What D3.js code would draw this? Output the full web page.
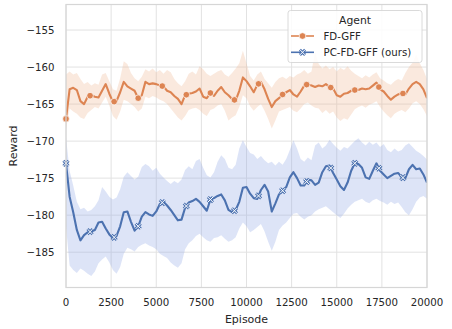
<!DOCTYPE html>
<html>
<head>
<meta charset="utf-8">
<script src="https://cdn.jsdelivr.net/npm/d3@7"></script>
<style>
  html, body { margin: 0; padding: 0; background: #ffffff; }
  svg { display: block; font-family: "DejaVu Sans", sans-serif; }
</style>
</head>
<body>
<svg id="chart" width="452" height="329"></svg>
<script>
// Episodes sampled every 200 steps from 0 to 20000
const episodes = d3.range(0, 20001, 200);

// FD-GFF: mean reward and confidence band
const fdMean = [
  -167.0, -163.0, -162.8, -163.1, -164.6, -165.0, -164.0, -163.8, -164.0, -164.1,
  -163.2, -162.3, -163.6, -164.7, -164.6, -163.4, -162.0, -162.6, -162.9, -163.2,
  -164.2, -163.8, -162.0, -162.3, -162.2, -162.3, -162.5, -162.6, -163.2, -163.4,
  -163.9, -164.3, -165.0, -163.8, -163.6, -163.5, -163.3, -162.9, -164.0, -164.2,
  -163.5, -163.9, -163.2, -162.7, -163.4, -163.8, -164.3, -164.5, -163.2, -161.4,
  -161.9, -162.6, -163.4, -162.4, -162.0, -163.0, -164.3, -165.4, -164.6, -164.2,
  -163.7, -163.4, -163.1, -163.7, -164.0, -163.3, -162.5, -162.3, -162.5, -162.7,
  -162.5, -162.6, -162.3, -162.7, -162.9, -163.8, -164.0, -163.6, -163.5, -163.2,
  -163.1, -163.1, -162.9, -163.0, -162.9, -162.5, -162.1, -163.0, -163.3, -163.9,
  -164.4, -164.0, -163.7, -163.5, -163.7, -162.9, -162.3, -162.0, -162.3, -163.0,
  -164.2
];
const fdUpper = [
  -161.0, -160.6, -161.0, -160.8, -161.6, -162.3, -162.0, -162.5, -162.2, -162.4,
  -161.0, -160.8, -161.9, -163.0, -163.2, -161.5, -159.2, -159.6, -160.8, -161.5,
  -161.9, -161.3, -160.3, -160.6, -160.2, -160.7, -160.4, -160.9, -160.4, -160.7,
  -161.6, -162.2, -162.6, -161.9, -160.9, -160.6, -161.0, -159.9, -160.3, -160.9,
  -161.2, -160.9, -160.6, -160.4, -161.0, -161.3, -160.8, -160.2, -159.5, -157.8,
  -159.5, -161.2, -161.8, -161.0, -160.6, -161.6, -162.2, -162.8, -162.0, -161.5,
  -161.3, -161.6, -161.2, -161.4, -161.0, -160.8, -160.4, -160.9, -160.6, -157.9,
  -159.6, -160.2, -159.8, -160.3, -160.0, -160.6, -160.1, -160.4, -159.9, -160.5,
  -160.9, -161.2, -161.5, -161.1, -161.4, -161.0, -160.7, -161.5, -161.8, -162.2,
  -162.4, -161.9, -161.6, -161.8, -160.8, -160.0, -159.4, -158.3, -159.5, -160.4,
  -161.6
];
const fdLower = [
  -168.5, -165.6, -166.0, -166.3, -166.8, -167.0, -166.2, -165.8, -165.4, -165.6,
  -164.8, -164.0, -165.2, -166.6, -167.1, -166.0, -164.4, -164.6, -165.0, -165.4,
  -166.0, -165.6, -164.0, -164.2, -163.9, -164.1, -164.4, -164.6, -165.0, -165.6,
  -166.2, -166.8, -167.2, -166.6, -165.8, -165.6, -165.5, -165.8, -166.3, -166.6,
  -165.8, -165.6, -165.2, -165.0, -165.9, -167.2, -166.8, -166.5, -165.4, -163.8,
  -164.2, -165.3, -165.9, -165.4, -165.0, -165.9, -167.0, -168.3, -167.2, -166.0,
  -165.8, -165.6, -165.4, -165.9, -166.1, -165.6, -165.0, -164.8, -165.2, -165.5,
  -165.6, -166.2, -165.8, -166.3, -166.0, -166.8, -167.3, -166.9, -167.1, -166.4,
  -165.7, -165.4, -165.2, -165.5, -165.1, -164.9, -164.6, -165.4, -166.0, -166.5,
  -166.9, -166.3, -166.0, -165.8, -166.1, -165.6, -164.9, -164.6, -165.0, -165.7,
  -166.6
];

// PC-FD-GFF (ours): mean reward and confidence band
const pcMean = [
  -173.0, -177.5, -179.6, -182.0, -183.4, -182.7, -182.3, -182.2, -182.0, -181.0,
  -180.9, -181.8, -182.6, -183.1, -182.8, -181.5, -179.6, -179.5, -180.9, -182.1,
  -181.5, -180.2, -179.6, -179.9, -180.1, -179.5, -178.5, -178.2, -178.7, -179.3,
  -180.0, -180.7, -180.6, -179.0, -178.3, -178.1, -177.8, -178.2, -178.8, -179.4,
  -177.9, -177.7, -177.4, -177.2, -178.0, -179.3, -179.6, -179.3, -178.2, -176.3,
  -176.2, -177.1, -177.7, -177.8, -176.6, -175.9, -176.8, -179.5, -178.4, -177.2,
  -176.7, -176.2, -174.9, -174.2, -175.0, -176.0, -176.0, -175.2, -175.3, -175.9,
  -175.6, -174.2, -173.4, -173.3, -174.3, -175.2, -176.1, -176.6, -175.6, -174.0,
  -173.0, -173.1, -173.6, -174.9, -175.1, -174.0, -173.0, -174.0, -174.5, -175.0,
  -174.7, -174.4, -174.3, -174.9, -175.0, -173.8, -173.2, -173.8, -173.7, -174.5,
  -175.6
];
const pcUpper = [
  -169.5, -174.0, -176.0, -178.2, -179.2, -179.0, -179.5, -179.3, -178.8, -178.0,
  -176.2, -176.8, -177.5, -177.9, -177.6, -176.5, -174.8, -174.2, -174.7, -175.2,
  -174.8, -173.5, -173.1, -173.4, -174.0, -173.6, -174.4, -174.9, -175.4, -175.8,
  -175.4, -175.7, -175.2, -173.9, -173.4, -173.8, -172.7, -172.4, -173.6, -174.6,
  -174.9, -174.2, -172.8, -171.9, -172.4, -173.6, -173.8, -173.2, -171.0, -169.9,
  -170.8, -171.6, -171.8, -172.4, -172.0, -172.6, -173.0, -172.8, -173.3, -172.8,
  -173.2, -172.4, -171.2, -169.9, -171.0, -172.4, -172.8, -172.2, -172.6, -170.6,
  -170.2, -171.0, -170.6, -169.8, -170.4, -170.9, -171.3, -170.8, -171.0, -170.5,
  -170.0, -169.6, -170.2, -170.6, -170.1, -170.5, -170.2, -170.8, -170.4, -171.2,
  -171.5, -171.0, -171.4, -171.2, -170.6, -170.3, -170.8, -171.3, -171.6, -172.0,
  -172.5
];
const pcLower = [
  -181.5, -186.8, -187.4, -187.8, -187.2, -187.5, -187.9, -188.2, -187.6, -186.5,
  -186.0, -185.6, -186.4, -187.4, -187.9, -187.0, -185.2, -184.4, -184.6, -184.9,
  -184.3, -184.0, -183.8, -184.1, -184.3, -184.6, -185.2, -185.5, -185.8, -186.4,
  -186.8, -187.1, -186.5, -184.6, -183.8, -183.4, -182.8, -182.5, -183.0, -183.4,
  -183.6, -183.1, -183.0, -182.7, -183.2, -183.6, -183.4, -183.0, -181.8, -181.0,
  -181.5, -182.3, -182.0, -181.6, -181.2, -182.2, -183.6, -184.8, -183.6, -182.0,
  -181.4, -181.0, -180.4, -179.8, -179.7, -180.2, -180.6, -180.2, -180.0, -179.5,
  -179.2, -179.0, -178.8, -179.2, -179.6, -180.0, -180.4, -179.8, -179.1, -178.6,
  -178.2, -178.0, -177.8, -178.2, -178.4, -178.0, -177.8, -178.1, -178.3, -178.6,
  -178.2, -178.5, -178.3, -178.9, -179.6, -180.0, -179.2, -178.2, -177.6, -177.4,
  -177.8
];

// Episodes carrying a marker
const markerEpisodes = [0, 1333, 2667, 4000, 5333, 6667, 8000, 9333, 10667, 12000, 13333, 14667, 16000, 17333, 18667];

const xTicks = [0, 2500, 5000, 7500, 10000, 12500, 15000, 17500, 20000];
const yTicks = [-185, -180, -175, -170, -165, -160, -155];

const seriesNames = ["FD-GFF", "PC-FD-GFF (ours)"];
const seriesColors = ["#dd8452", "#4c72b0"];
const bandColors = ["#f0b593", "#8fa6e6"];

const svg = d3.select("#chart");
const plotLeft = 66, plotRight = 427, plotTop = 4.5, plotBottom = 287.5;

const x = d3.scaleLinear().domain([0, 20000]).range([plotLeft, plotRight]);
const y = d3.scaleLinear().domain([-189.77, -151.55]).range([plotBottom, plotTop]);

// Grid lines
const grid = svg.append("g");
grid.selectAll("line.gx").data(xTicks).join("line")
  .attr("x1", d => x(d)).attr("x2", d => x(d))
  .attr("y1", plotTop).attr("y2", plotBottom)
  .attr("stroke", "#e2e2e2").attr("stroke-width", 1);
grid.selectAll("line.gy").data(yTicks).join("line")
  .attr("x1", plotLeft).attr("x2", plotRight)
  .attr("y1", d => y(d)).attr("y2", d => y(d))
  .attr("stroke", "#e2e2e2").attr("stroke-width", 1);

const series = [
  { name: seriesNames[0], color: seriesColors[0], band: bandColors[0], mean: fdMean, upper: fdUpper, lower: fdLower, marker: "circle" },
  { name: seriesNames[1], color: seriesColors[1], band: bandColors[1], mean: pcMean, upper: pcUpper, lower: pcLower, marker: "cross" }
];

const plot = svg.append("g");
plot.append("clipPath").attr("id", "clip").append("rect")
  .attr("x", plotLeft).attr("y", plotTop).attr("width", plotRight - plotLeft).attr("height", plotBottom - plotTop);
const inner = plot.append("g").attr("clip-path", "url(#clip)");

function interp(arr, ep) {
  const i = Math.min(d3.bisectRight(episodes, ep) - 1, episodes.length - 2);
  const t = (ep - episodes[i]) / (episodes[i + 1] - episodes[i]);
  return arr[i] + (arr[i + 1] - arr[i]) * t;
}

series.forEach(s => {
  const area = d3.area()
    .x((d, i) => x(episodes[i]))
    .y0((d, i) => y(s.lower[i]))
    .y1((d, i) => y(s.upper[i]));
  inner.append("path").datum(s.mean)
    .attr("d", area)
    .attr("fill", s.band).attr("fill-opacity", 0.3).attr("stroke", "none");
});

series.forEach(s => {
  const line = d3.line()
    .x((d, i) => x(episodes[i]))
    .y(d => y(d));
  inner.append("path").datum(s.mean)
    .attr("d", line)
    .attr("fill", "none").attr("stroke", s.color)
    .attr("stroke-width", 2.1).attr("stroke-linejoin", "round");
});

function drawMarker(g, kind, color, cx, cy) {
  if (kind === "circle") {
    g.append("circle").attr("cx", cx).attr("cy", cy).attr("r", 3.3)
      .attr("fill", color).attr("stroke", "#ffffff").attr("stroke-width", 0.7);
  } else {
    const r = 2.6;
    const p = `M${cx - r},${cy - r}L${cx + r},${cy + r}M${cx - r},${cy + r}L${cx + r},${cy - r}`;
    g.append("path").attr("d", p).attr("stroke", color).attr("stroke-width", 2.8).attr("fill", "none");
    g.append("path").attr("d", p).attr("stroke", "#ffffff").attr("stroke-width", 1.0).attr("fill", "none");
  }
}

series.forEach(s => {
  const g = svg.append("g");
  markerEpisodes.forEach(ep => drawMarker(g, s.marker, s.color, x(ep), y(interp(s.mean, ep))));
});

// Frame
svg.append("rect")
  .attr("x", plotLeft).attr("y", plotTop).attr("width", plotRight - plotLeft).attr("height", plotBottom - plotTop)
  .attr("fill", "none").attr("stroke", "#d6d6d6").attr("stroke-width", 1.2);

// Tick labels
const fmtX = d3.format("d");
svg.append("g").selectAll("text").data(xTicks).join("text")
  .attr("x", d => x(d)).attr("y", 305.5)
  .attr("text-anchor", "middle").attr("font-size", 10.2).attr("fill", "#262626")
  .text(d => fmtX(d));
svg.append("g").selectAll("text").data(yTicks).join("text")
  .attr("x", 54.5).attr("y", d => y(d) + 3.7)
  .attr("text-anchor", "end").attr("font-size", 10.2).attr("fill", "#262626")
  .text(d => "\u2212" + Math.abs(d));

// Axis titles
svg.append("text").attr("x", (plotLeft + plotRight) / 2).attr("y", 322.5)
  .attr("text-anchor", "middle").attr("font-size", 11).attr("fill", "#262626")
  .text("Episode");
svg.append("text").attr("transform", `translate(17,${(plotTop + plotBottom) / 2}) rotate(-90)`)
  .attr("text-anchor", "middle").attr("font-size", 11).attr("fill", "#262626")
  .text("Reward");

// Legend
const lg = svg.append("g");
lg.append("rect").attr("x", 288).attr("y", 10.5).attr("width", 134).attr("height", 52)
  .attr("rx", 2.5).attr("fill", "#ffffff").attr("fill-opacity", 0.85)
  .attr("stroke", "#d6d6d6").attr("stroke-width", 0.9);
lg.append("text").attr("x", 355).attr("y", 24)
  .attr("text-anchor", "middle").attr("font-size", 10.8).attr("fill", "#262626")
  .text("Agent");
series.forEach((s, i) => {
  const ly = 36 + i * 16.3;
  lg.append("line").attr("x1", 291).attr("x2", 314).attr("y1", ly).attr("y2", ly)
    .attr("stroke", s.color).attr("stroke-width", 1.6);
  drawMarker(lg, s.marker, s.color, 302.5, ly);
  lg.append("text").attr("x", 323.5).attr("y", ly + 3.6)
    .attr("font-size", 10.2).attr("fill", "#262626").text(s.name);
});
</script>
</body>
</html>
